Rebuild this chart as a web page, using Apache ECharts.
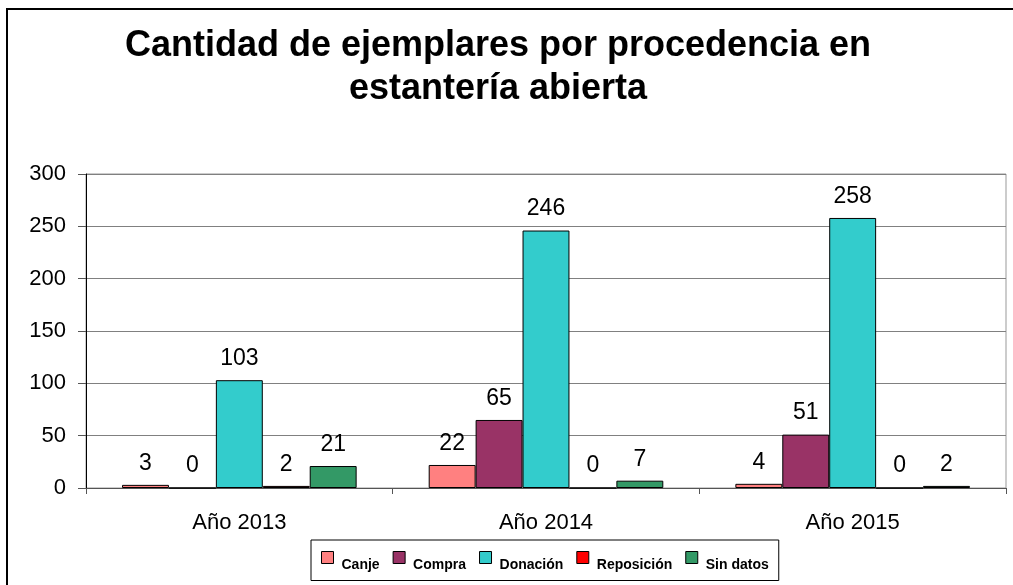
<!DOCTYPE html>
<html>
<head>
<meta charset="utf-8">
<script src="https://cdn.jsdelivr.net/npm/echarts@6/dist/echarts.min.js"></script>
<style>
  html, body { margin: 0; padding: 0; background: #fff; }
  #chart { width: 1013px; height: 585px; }
</style>
</head>
<body>
<div id="chart"></div>
<script>
const years = ['Año 2013', 'Año 2014', 'Año 2015'];
const canje = [3, 22, 4];
const compra = [0, 65, 51];
const donacion = [103, 246, 258];
const reposicion = [2, 0, 0];
const sinDatos = [21, 7, 2];
const yTicks = [0, 50, 100, 150, 200, 250, 300];

const chart = echarts.init(document.getElementById('chart'));
const font = 'Arial, "Liberation Sans", sans-serif';

function bar(name, data, color) {
    return {
        name: name,
        type: 'bar',
        data: data,
        barGap: '0%',
        barCategoryGap: '23.5%',
        itemStyle: { color: color, borderColor: '#000', borderWidth: 1 },
        label: {
            show: true,
            position: 'top',
            distance: 10,
            color: '#000',
            fontFamily: font,
            fontSize: 23
        }
    };
}

const option = {
    animation: false,
    backgroundColor: '#fff',
    textStyle: { fontFamily: font },
    title: {
        text: 'Cantidad de ejemplares por procedencia en\nestantería abierta',
        left: 493,
        top: 20,
        textAlign: 'center',
        textStyle: {
            fontFamily: font,
            fontSize: 36,
            fontWeight: 'bold',
            color: '#000',
            lineHeight: 43
        }
    },
    graphic: [{
        type: 'rect',
        shape: { x: 7, y: 9, width: 1100, height: 700 },
        style: { fill: 'none', stroke: '#000', lineWidth: 2 },
        silent: true
    }],
    legend: {
        left: 311,
        top: 540,
        padding: [11, 10, 8, 10],
        borderColor: '#000',
        borderWidth: 1,
        itemWidth: 12,
        itemHeight: 12,
        itemGap: 13,
        icon: 'rect',
        itemStyle: { borderColor: '#000', borderWidth: 1 },
        formatter: function (name) {
            return '{t|' + name + '}';
        },
        textStyle: {
            fontFamily: font,
            fontSize: 14,
            fontWeight: 'bold',
            color: '#000',
            rich: {
                t: {
                    fontFamily: font,
                    fontSize: 14,
                    fontWeight: 'bold',
                    color: '#000',
                    padding: [16, 0, 0, 3]
                }
            }
        }
    },
    grid: {
        left: 86,
        right: 7,
        top: 174,
        bottom: 97,
        show: true,
        borderColor: '#999',
        borderWidth: 1
    },
    xAxis: {
        type: 'category',
        data: years,
        axisLine: { lineStyle: { color: '#555', width: 1 } },
        axisTick: { show: true, length: 6, lineStyle: { color: '#555' } },
        axisLabel: { color: '#000', fontFamily: font, fontSize: 22, margin: 24 }
    },
    yAxis: {
        type: 'value',
        min: yTicks[0],
        max: yTicks[yTicks.length - 1],
        interval: 50,
        axisLine: { show: true, lineStyle: { color: '#000', width: 1 } },
        axisTick: { show: true, length: 8, lineStyle: { color: '#555' } },
        axisLabel: { color: '#000', fontFamily: font, fontSize: 22, margin: 20 },
        splitLine: { lineStyle: { color: '#808080', width: 1 } }
    },
    series: [
        bar('Canje', canje, '#FF8080'),
        bar('Compra', compra, '#993366'),
        bar('Donación', donacion, '#33CCCC'),
        bar('Reposición', reposicion, '#FF0000'),
        bar('Sin datos', sinDatos, '#339966')
    ]
};

chart.setOption(option);
</script>
</body>
</html>
